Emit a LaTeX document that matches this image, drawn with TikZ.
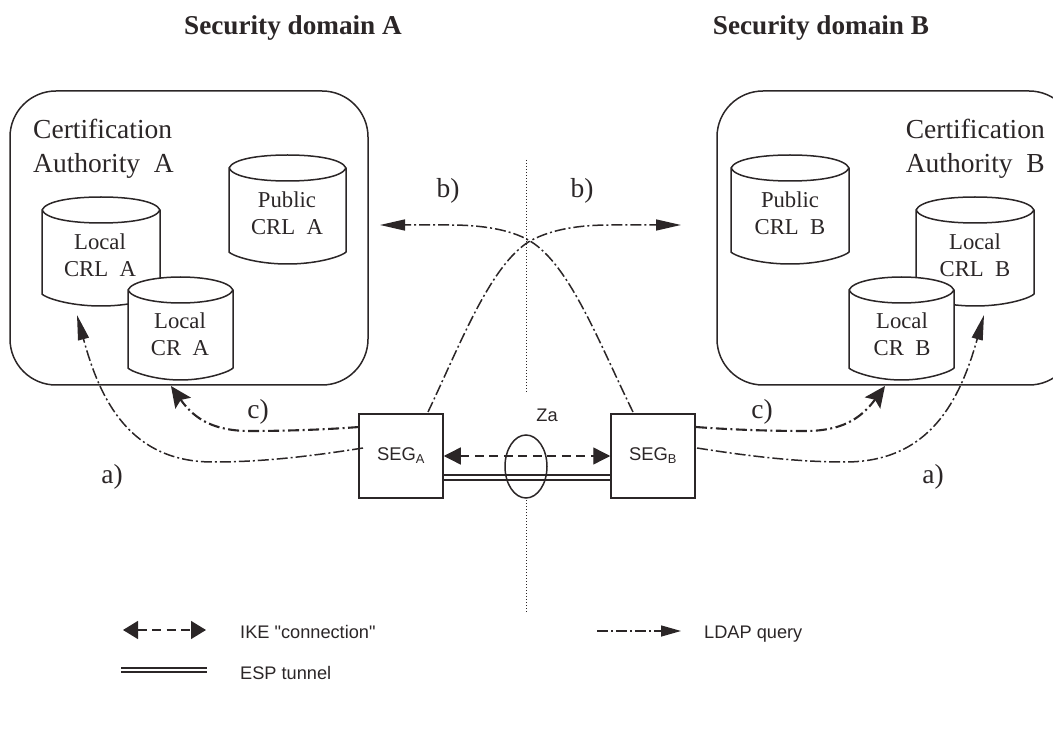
\documentclass[tikz,border=0pt]{standalone}
\usepackage{fontspec}
\setmainfont{Liberation Serif}
\newfontfamily\arialf{Liberation Sans}
\usetikzlibrary{arrows.meta,shapes.geometric}
\definecolor{ink}{HTML}{2B2627}
\tikzset{
  ink line/.style={draw=ink,line width=1.5pt},
  ca box/.style={ink line,rounded corners=46pt},
  cyl body/.style={ink line,fill=white,line join=round},
  cyl text/.style={font=\fontsize{22.7}{27}\selectfont,text=ink,align=center,inner sep=0pt},
  ca text/.style={font=\fontsize{27.5}{34}\selectfont,text=ink,align=left,inner sep=0pt},
  title text/.style={font=\bfseries\fontsize{27.2}{32}\selectfont,text=ink,anchor=base,inner sep=0pt},
  tag text/.style={font=\fontsize{27.5}{32}\selectfont,text=ink,anchor=base,inner sep=0pt},
  sans text/.style={font=\arialf\fontsize{18.2}{22}\selectfont,text=ink,inner sep=0pt},
  seg box/.style={ink line,minimum width=84pt,minimum height=84pt,inner sep=0pt,font=\arialf\fontsize{18.4}{22}\selectfont,text=ink},
  border line/.style={draw=ink,line width=1pt,dash pattern=on 1pt off 2pt},
  ldap/.style={draw=ink,line width=1.5pt,dash pattern=on 11pt off 3pt on 2pt off 3pt},
  ldap thick/.style={draw=ink,line width=2.1pt,dash pattern=on 11pt off 3.5pt on 2pt off 3.5pt},
  ldap tip/.style={-{Triangle[length=25pt,width=11pt,fill=ink]}},
  ldap tip c/.style={-{Stealth[length=21pt,width=19pt,inset=4pt,fill=ink]}},
  ike/.style={draw=ink,line width=1.4pt,dash pattern=on 9pt off 5.5pt,{Triangle[length=17pt,width=17pt,fill=ink]}-{Triangle[length=17pt,width=17pt,fill=ink]}},
  esp/.style={draw=ink,line width=2pt},
}
% x1 x2 top-of-ellipse bottom-of-cylinder
\newcommand{\dbcyl}[4]{%
  \path[cyl body] (#1,#3+13) -- (#1,#4-12)
     .. controls (#1+2,#4-9) and (#1+25,#4) .. ({(#1+#2)/2},#4)
     .. controls (#2-25,#4) and (#2-2,#4-9) .. (#2,#4-12)
     -- (#2,#3+13)
     .. controls (#2-4,#3+4) and (#2-30,#3) .. ({(#1+#2)/2},#3)
     .. controls (#1+30,#3) and (#1+4,#3+4) .. (#1,#3+13)
     .. controls (#1+4,#3+22) and (#1+30,#3+26) .. ({(#1+#2)/2},#3+26)
     .. controls (#2-30,#3+26) and (#2-4,#3+22) .. (#2,#3+13);
}
\begin{document}
\begin{tikzpicture}[x=1pt,y=-1pt]
\useasboundingbox (0,0) rectangle (1053,743);
\clip (0,0) rectangle (1053,743);
% titles
\node[title text] (titleA) at (293,34.5) {Security domain A};
\node[title text] (titleB) at (821,34.5) {Security domain B};
% CA boxes
\path[ca box] (10,91) rectangle (368,385);
\path[ca box] (717,91) rectangle (1075,385);
\node[ca text,anchor=base west] (caA1) at (33,138.5) {Certification};
\node[ca text,anchor=base west] (caA2) at (33,172.5) {Authority\ \ A};
\node[ca text,anchor=base east] (caB1) at (1045,138.5) {Certification};
\node[ca text,anchor=base east] (caB2) at (1045,172.5) {Authority\ \ B};
% cylinders A
\dbcyl{229}{346}{155}{264}
\node[cyl text] (pubA) at (287,213) {Public\\CRL\ \ A};
\dbcyl{42}{160}{197}{306}
\node[cyl text] (crlA) at (100,255.5) {Local\\CRL\ \ A};
\dbcyl{128}{233}{277}{380}
\node[cyl text] (crA) at (180,334) {Local\\CR\ \ A};
% cylinders B
\dbcyl{731}{849}{155}{264}
\node[cyl text] (pubB) at (790,213) {Public\\CRL\ \ B};
\dbcyl{916}{1034}{197}{306}
\node[cyl text] (crlB) at (975,255.5) {Local\\CRL\ \ B};
\dbcyl{849}{954}{277}{380}
\node[cyl text] (crB) at (902,334) {Local\\CR\ \ B};
% border
\coordinate (bt) at (526,160);
\coordinate (bm1) at (526,392);
\coordinate (bm2) at (526,500);
\coordinate (bb) at (526,612);
\draw[border line] (bt) -- (bm1);
\draw[border line] (bm2) -- (bb);
% SEGs
\node[seg box] (segA) at (401,456) {SEG\textsubscript{A}};
\node[seg box] (segB) at (653,456) {SEG\textsubscript{B}};
\node[ink line,ellipse,minimum width=42pt,minimum height=63pt,inner sep=0pt] (za) at (526,466.5) {};
\node[sans text,anchor=base] (zaL) at (547,421) {Za};
% IKE and ESP
\draw[ike] (segA.east) -- (segB.west);
\draw[esp] ([yshift=-19pt]segA.east) -- ([yshift=-19pt]segB.west);
\draw[esp] ([yshift=-24pt]segA.east) -- ([yshift=-24pt]segB.west);
% LDAP a
\coordinate (aAs) at (363,448);
\coordinate (aAe) at (77,315);
\coordinate (aBs) at (697,448);
\coordinate (aBe) at (984,315);
\draw[ldap,ldap tip] (aAs) .. controls (300,458) and (255,462) .. (213,462) .. controls (130,462) and (100,400) .. (aAe);
\draw[ldap,ldap tip] (aBs) .. controls (760,458) and (805,462) .. (845,462) .. controls (930,462) and (960,400) .. (aBe);
% LDAP c
\coordinate (cAs) at (359,427);
\coordinate (cAe) at (171,386);
\coordinate (cBs) at (696,427);
\coordinate (cBe) at (885,386);
\draw[ldap thick,ldap tip c] (cAs) .. controls (320,430) and (280,431) .. (250,431) .. controls (215,431) and (195,420) .. (cAe);
\draw[ldap thick,ldap tip c] (cBs) .. controls (735,430) and (775,431) .. (805,431) .. controls (840,431) and (860,420) .. (cBe);
% LDAP b
\coordinate (bAs) at (428,412);
\coordinate (bBs) at (633,412);
\coordinate (bcross) at (530,241);
\coordinate (bAe) at (681,225);
\coordinate (bBe) at (380,225);
\draw[ldap,ldap tip] (bAs) .. controls (460,345) and (490,265) .. (bcross) .. controls (552,229) and (580,225) .. (610,225) -- (bAe);
\draw[ldap,ldap tip] (bBs) .. controls (600,345) and (570,265) .. (bcross) .. controls (510,229) and (480,225) .. (450,225) -- (bBe);
% tags
\node[tag text] (tb1) at (448,198) {b)};
\node[tag text] (tb2) at (582,198) {b)};
\node[tag text] (tc1) at (258,418) {c)};
\node[tag text] (tc2) at (762,418) {c)};
\node[tag text] (ta1) at (112,483) {a)};
\node[tag text] (ta2) at (933,483) {a)};
% legend
\coordinate (l1a) at (123,630);
\coordinate (l1b) at (206,630);
\coordinate (l2a) at (121,668);
\coordinate (l2b) at (207,668);
\coordinate (l3a) at (121,672);
\coordinate (l3b) at (207,672);
\coordinate (l4a) at (597,631);
\coordinate (l4b) at (681,631);
\draw[ike,{Triangle[length=15pt,width=18pt,fill=ink]}-{Triangle[length=15pt,width=18pt,fill=ink]}] (l1a) -- (l1b);
\draw[esp] (l2a) -- (l2b);
\draw[esp] (l3a) -- (l3b);
\draw[ldap,-{Triangle[length=20pt,width=11pt,fill=ink]}] (l4a) -- (l4b);
\node[sans text,anchor=base west] (lg1) at (240,638) {IKE "connection"};
\node[sans text,anchor=base west] (lg2) at (240,679) {ESP tunnel};
\node[sans text,anchor=base west] (lg3) at (704,638) {LDAP query};
\end{tikzpicture}
\end{document}
